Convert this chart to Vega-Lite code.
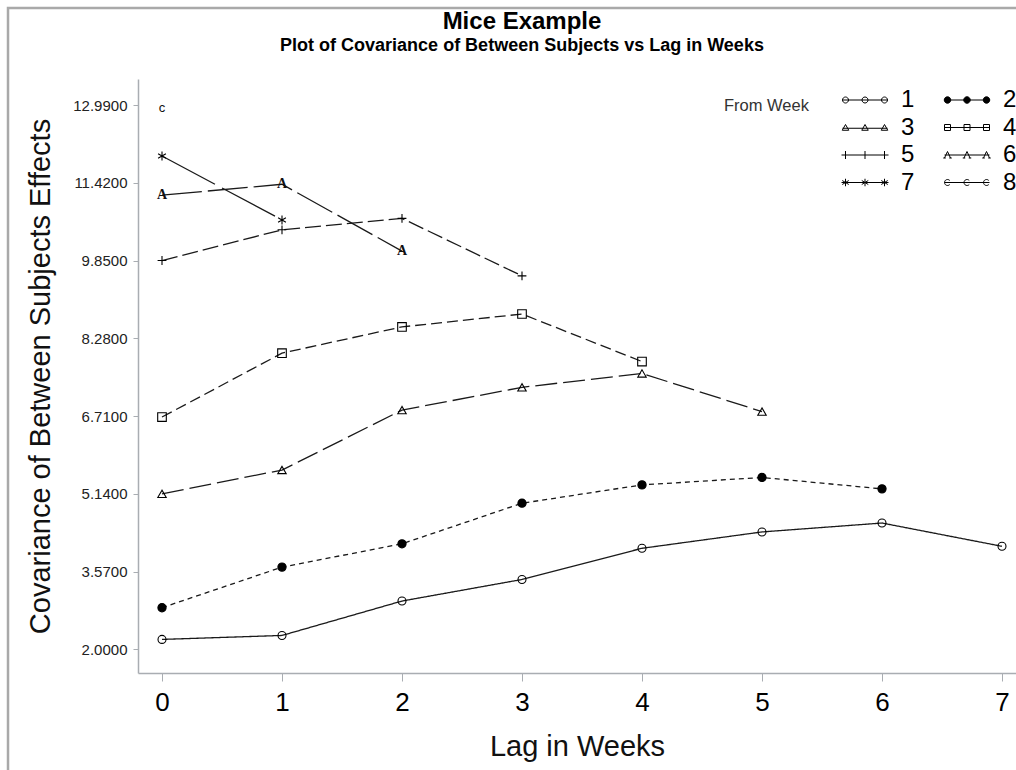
{
  "$schema": "https://vega.github.io/schema/vega-lite/v6.json",
  "width": 878,
  "height": 594,
  "autosize": {"type": "none"},
  "padding": {"left": 138, "top": 79, "right": 0, "bottom": 97},
  "background": "white",
  "config": {
    "view": {"stroke": null},
    "font": "Liberation Sans",
    "axis": {
      "grid": false,
      "domainColor": "#a9adb2",
      "tickColor": "#a9adb2",
      "domainWidth": 1.5,
      "labelColor": "#222222",
      "labelFont": "Liberation Sans",
      "titleFont": "Liberation Sans",
      "titleFontWeight": "normal",
      "titleColor": "#111111"
    }
  },
  "title": {
    "text": "Mice Example",
    "subtitle": "Plot of Covariance of Between Subjects vs Lag in Weeks",
    "anchor": "middle",
    "frame": "group",
    "dx": -55,
    "offset": -48.5,
    "font": "Liberation Sans",
    "fontSize": 24,
    "fontWeight": "bold",
    "color": "black",
    "subtitleFont": "Liberation Sans",
    "subtitleFontSize": 18,
    "subtitleFontWeight": "bold",
    "subtitleColor": "black",
    "subtitlePadding": 3
  },
  "data": {
    "values": [
      {"from_week": "1", "lag": 0, "covariance": 2.20},
      {"from_week": "1", "lag": 1, "covariance": 2.28},
      {"from_week": "1", "lag": 2, "covariance": 2.975},
      {"from_week": "1", "lag": 3, "covariance": 3.41},
      {"from_week": "1", "lag": 4, "covariance": 4.04},
      {"from_week": "1", "lag": 5, "covariance": 4.37},
      {"from_week": "1", "lag": 6, "covariance": 4.55},
      {"from_week": "1", "lag": 7, "covariance": 4.08},
      {"from_week": "2", "lag": 0, "covariance": 2.84},
      {"from_week": "2", "lag": 1, "covariance": 3.66},
      {"from_week": "2", "lag": 2, "covariance": 4.13},
      {"from_week": "2", "lag": 3, "covariance": 4.95},
      {"from_week": "2", "lag": 4, "covariance": 5.32},
      {"from_week": "2", "lag": 5, "covariance": 5.47},
      {"from_week": "2", "lag": 6, "covariance": 5.24},
      {"from_week": "3", "lag": 0, "covariance": 5.14},
      {"from_week": "3", "lag": 1, "covariance": 5.62},
      {"from_week": "3", "lag": 2, "covariance": 6.83},
      {"from_week": "3", "lag": 3, "covariance": 7.29},
      {"from_week": "3", "lag": 4, "covariance": 7.57},
      {"from_week": "3", "lag": 5, "covariance": 6.80},
      {"from_week": "4", "lag": 0, "covariance": 6.69},
      {"from_week": "4", "lag": 1, "covariance": 7.98},
      {"from_week": "4", "lag": 2, "covariance": 8.51},
      {"from_week": "4", "lag": 3, "covariance": 8.77},
      {"from_week": "4", "lag": 4, "covariance": 7.81},
      {"from_week": "5", "lag": 0, "covariance": 9.85},
      {"from_week": "5", "lag": 1, "covariance": 10.47},
      {"from_week": "5", "lag": 2, "covariance": 10.70},
      {"from_week": "5", "lag": 3, "covariance": 9.54},
      {"from_week": "6", "lag": 0, "covariance": 11.17},
      {"from_week": "6", "lag": 1, "covariance": 11.39},
      {"from_week": "6", "lag": 2, "covariance": 10.04},
      {"from_week": "7", "lag": 0, "covariance": 11.96},
      {"from_week": "7", "lag": 1, "covariance": 10.67},
      {"from_week": "8", "lag": 0, "covariance": 12.93}
    ]
  },
  "layer": [
    {
      "mark": {"type": "line", "color": "#1a1a1a", "strokeWidth": 1.3},
      "encoding": {
        "x": {
          "field": "lag",
          "type": "quantitative",
          "scale": {"domain": [-0.2, 7.1167], "nice": false, "zero": false},
          "axis": {
            "title": "Lag in Weeks",
            "values": [0, 1, 2, 3, 4, 5, 6, 7],
            "format": "d",
            "labelFontSize": 26,
            "labelColor": "black",
            "tickSize": 8,
            "labelPadding": 8,
            "titleFontSize": 29,
            "titlePadding": 17,
            "labelFlush": false
          }
        },
        "y": {
          "field": "covariance",
          "type": "quantitative",
          "scale": {"domain": [1.522, 13.515], "nice": false, "zero": false},
          "axis": {
            "title": "Covariance of Between Subjects Effects",
            "values": [2, 3.57, 5.14, 6.71, 8.28, 9.85, 11.42, 12.99],
            "format": ".4f",
            "labelFontSize": 15,
            "tickSize": 5,
            "labelPadding": 6,
            "titleFontSize": 29,
            "titlePadding": 17
          }
        },
        "detail": {"field": "from_week"},
        "strokeDash": {
          "field": "from_week",
          "type": "nominal",
          "scale": {
            "domain": ["1", "2", "3", "4", "5", "6", "7", "8"],
            "range": [[1, 0], [5, 4], [22, 6], [11, 5], [16, 5], [40, 6], [60, 8], [1, 0]]
          },
          "legend": null
        }
      }
    },
    {
      "data": {"values": [{"frame": "border"}]},
      "mark": {"type": "rect", "fill": "white", "fillOpacity": 0, "stroke": "#a9a9a9", "strokeWidth": 2.5},
      "encoding": {
        "x": {"datum": -1.2833, "type": "quantitative"},
        "x2": {"datum": 9},
        "y": {"datum": 14.9485, "type": "quantitative"},
        "y2": {"datum": -1.5}
      }
    },
    {
      "transform": [{"filter": "datum.from_week != '6' && datum.from_week != '8'"}],
      "mark": {"type": "point", "filled": false, "stroke": "black", "strokeWidth": 1.1, "opacity": 1},
      "encoding": {
        "x": {"field": "lag", "type": "quantitative"},
        "y": {"field": "covariance", "type": "quantitative"},
        "shape": {
          "field": "from_week",
          "type": "nominal",
          "scale": {
            "domain": ["1", "2", "3", "4", "5", "7"],
            "range": [
              "circle",
              "circle",
              "triangle-up",
              "square",
              "M-1,0L1,0M0,-1L0,1",
              "M0,-1L0,1M-0.87,-0.5L0.87,0.5M-0.87,0.5L0.87,-0.5"
            ]
          },
          "legend": null
        },
        "fill": {
          "field": "from_week",
          "type": "nominal",
          "scale": {
            "domain": ["1", "2", "3", "4", "5", "7"],
            "range": ["transparent", "black", "transparent", "transparent", "transparent", "transparent"]
          },
          "legend": null
        },
        "size": {
          "field": "from_week",
          "type": "nominal",
          "scale": {
            "domain": ["1", "2", "3", "4", "5", "7"],
            "range": [64, 81, 64, 64, 81, 100]
          },
          "legend": null
        }
      }
    },
    {
      "transform": [{"filter": "datum.from_week == '6'"}],
      "mark": {"type": "text", "text": "A", "font": "Liberation Serif", "fontSize": 14, "fontWeight": "bold", "color": "#111111", "baseline": "middle", "align": "center"},
      "encoding": {
        "x": {"field": "lag", "type": "quantitative"},
        "y": {"field": "covariance", "type": "quantitative"}
      }
    },
    {
      "transform": [{"filter": "datum.from_week == '8'"}],
      "mark": {"type": "text", "text": "c", "font": "Liberation Sans", "fontSize": 13, "color": "#111111", "baseline": "middle", "align": "center"},
      "encoding": {
        "x": {"field": "lag", "type": "quantitative"},
        "y": {"field": "covariance", "type": "quantitative"}
      }
    },
    {
      "transform": [{"filter": "datum.lag == 0"}],
      "mark": {"type": "point", "filled": false, "opacity": 0, "size": 100},
      "encoding": {
        "x": {"field": "lag", "type": "quantitative"},
        "y": {"field": "covariance", "type": "quantitative"},
        "shape": {
          "field": "from_week",
          "type": "nominal",
          "scale": {
            "domain": ["1", "2", "3", "4", "5", "6", "7", "8"],
            "range": [
              "M-4.5,0L4.5,0M-4.5,0A0.6,0.6 0 1 0 -3.3,0A0.6,0.6 0 1 0 -4.5,0M-0.6,0A0.6,0.6 0 1 0 0.6,0A0.6,0.6 0 1 0 -0.6,0M3.3,0A0.6,0.6 0 1 0 4.5,0A0.6,0.6 0 1 0 3.3,0",
              "M-4.5,0L4.5,0M-4.55,0A0.65,0.65 0 1 0 -3.25,0A0.65,0.65 0 1 0 -4.55,0M-0.65,0A0.65,0.65 0 1 0 0.65,0A0.65,0.65 0 1 0 -0.65,0M3.25,0A0.65,0.65 0 1 0 4.55,0A0.65,0.65 0 1 0 3.25,0",
              "M-4.5,0.15L4.5,0.15M-3.9,-0.6L-3.25,0.55L-4.55,0.55ZM0,-0.6L0.65,0.55L-0.65,0.55ZM3.9,-0.6L4.55,0.55L3.25,0.55Z",
              "M-4.5,0L4.5,0M-4.5,-0.6h1.2v1.2h-1.2ZM-0.6,-0.6h1.2v1.2h-1.2ZM3.3,-0.6h1.2v1.2h-1.2Z",
              "M-4.7,0L4.7,0M-3.9,-0.8v1.6M0,-0.8v1.6M3.9,-0.8v1.6",
              "M-4.5,0L4.5,0M-4.5,0.6L-3.9,-0.7L-3.3,0.6M-4.75,0.6h0.5M-3.55,0.6h0.5M-0.6,0.6L0,-0.7L0.6,0.6M-0.85,0.6h0.5M0.35,0.6h0.5M3.3,0.6L3.9,-0.7L4.5,0.6M3.05,0.6h0.5M4.25,0.6h0.5",
              "M-4.7,0L4.7,0M-3.9,-0.75v1.5M-4.55,-0.4L-3.25,0.4M-4.55,0.4L-3.25,-0.4M0,-0.75v1.5M-0.65,-0.4L0.65,0.4M-0.65,0.4L0.65,-0.4M3.9,-0.75v1.5M3.25,-0.4L4.55,0.4M3.25,0.4L4.55,-0.4",
              "M-4.5,0L4.5,0M-3.45,-0.4A0.6,0.6 0 1 0 -3.45,0.4M0.45,-0.4A0.6,0.6 0 1 0 0.45,0.4M4.35,-0.4A0.6,0.6 0 1 0 4.35,0.4"
            ]
          },
          "legend": {
            "title": "From Week",
            "orient": "none",
            "legendX": 586,
            "legendY": 9,
            "columns": 2,
            "direction": "horizontal",
            "padding": 0,
            "titleOrient": "left",
            "titleAnchor": "start",
            "titleFont": "Liberation Sans",
            "titleFontSize": 16.5,
            "titleFontWeight": "normal",
            "titleColor": "#333333",
            "titlePadding": 44,
            "titleBaseline": "top",
            "symbolSize": 100,
            "symbolStrokeWidth": 1,
            "symbolOpacity": 1,
            "symbolStrokeColor": "black",
            "labelFont": "Liberation Sans",
            "labelFontSize": 24,
            "labelColor": "black",
            "labelOffset": 24,
            "columnPadding": 26,
            "rowPadding": 3.5,
            "encoding": {
              "title": {"dy": {"value": 10}},
              "symbols": {
                "fill": {"value": {"expr": "datum.value === '2' ? 'black' : 'transparent'"}},
                "stroke": {"value": "black"},
                "opacity": {"value": 1}
              }
            }
          }
        }
      }
    }
  ],
  "resolve": {"scale": {"shape": "independent", "fill": "independent", "size": "independent"}}
}
